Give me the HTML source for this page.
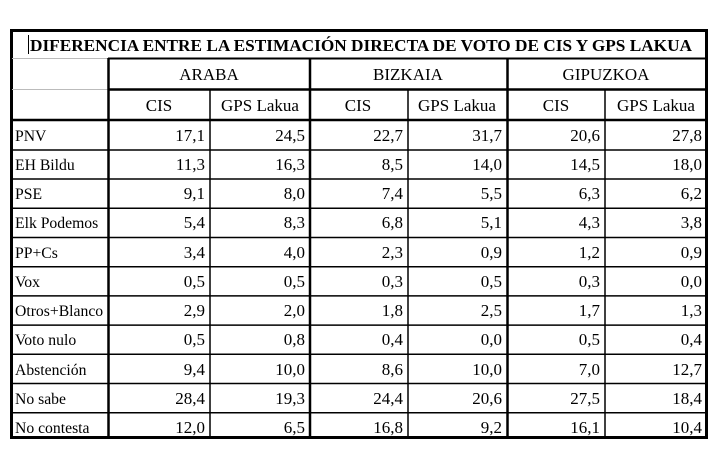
<!DOCTYPE html>
<html><head><meta charset="utf-8"><style>
html,body{margin:0;padding:0;background:#fff;}
svg text{font-family:"Liberation Serif",serif;fill:#000;}
</style></head><body>
<svg width="726" height="451" xmlns="http://www.w3.org/2000/svg">
<rect x="0" y="0" width="726" height="451" fill="#fff"/>
<g stroke="#000" fill="none">
<rect x="11.5" y="30.5" width="695" height="407" stroke-width="3"/>
<line x1="12" y1="58.5" x2="108" y2="58.5" stroke="#bbb" stroke-width="1"/>
<line x1="108" y1="58.5" x2="706" y2="58.5" stroke-width="2"/>
<line x1="12" y1="89.5" x2="108" y2="89.5" stroke="#bbb" stroke-width="1"/>
<line x1="108" y1="89.5" x2="706" y2="89.5" stroke-width="2.5"/>
<line x1="12" y1="120" x2="706" y2="120" stroke-width="2.5"/>
<g stroke-width="1.5">
<line x1="12" y1="150" x2="706" y2="150"/>
<line x1="12" y1="179" x2="706" y2="179"/>
<line x1="12" y1="208.3" x2="706" y2="208.3"/>
<line x1="12" y1="237.5" x2="706" y2="237.5"/>
<line x1="12" y1="266.7" x2="706" y2="266.7"/>
<line x1="12" y1="295.9" x2="706" y2="295.9"/>
<line x1="12" y1="325.1" x2="706" y2="325.1"/>
<line x1="12" y1="354.3" x2="706" y2="354.3"/>
<line x1="12" y1="383.5" x2="706" y2="383.5"/>
<line x1="12" y1="412.7" x2="706" y2="412.7"/>
</g>
<line x1="108.5" y1="58" x2="108.5" y2="437" stroke-width="2.5"/>
<line x1="310" y1="58" x2="310" y2="437" stroke-width="2.5"/>
<line x1="507.5" y1="58" x2="507.5" y2="437" stroke-width="2.5"/>
<line x1="210" y1="90" x2="210" y2="437" stroke-width="1.5"/>
<line x1="408" y1="90" x2="408" y2="437" stroke-width="1.5"/>
<line x1="605" y1="90" x2="605" y2="437" stroke-width="1.5"/>
</g>
<line x1="28.5" y1="35" x2="28.5" y2="54" stroke="#000" stroke-width="1"/>
<text x="30" y="51" font-size="16.5" font-weight="bold" textLength="662" lengthAdjust="spacingAndGlyphs">DIFERENCIA ENTRE LA ESTIMACIÓN DIRECTA DE VOTO DE CIS Y GPS LAKUA</text>
<g font-size="17" text-anchor="middle">
<text x="209" y="80">ARABA</text>
<text x="408" y="80">BIZKAIA</text>
<text x="606" y="80">GIPUZKOA</text>
<text x="159" y="111">CIS</text><text x="260" y="111">GPS Lakua</text>
<text x="358" y="111">CIS</text><text x="457" y="111">GPS Lakua</text>
<text x="556" y="111">CIS</text><text x="656" y="111">GPS Lakua</text>
</g>
<g font-size="15.7">
<text x="15" y="141">PNV</text>
<text x="15" y="170">EH Bildu</text>
<text x="15" y="199">PSE</text>
<text x="15" y="228">Elk Podemos</text>
<text x="15" y="258">PP+Cs</text>
<text x="15" y="287">Vox</text>
<text x="15" y="316">Otros+Blanco</text>
<text x="15" y="345">Voto nulo</text>
<text x="15" y="375">Abstención</text>
<text x="15" y="404">No sabe</text>
<text x="15" y="433">No contesta</text>
</g>
<g font-size="17" text-anchor="end">
<text x="205" y="141">17,1</text><text x="305" y="141">24,5</text><text x="403" y="141">22,7</text><text x="502" y="141">31,7</text><text x="600" y="141">20,6</text><text x="702" y="141">27,8</text>
<text x="205" y="170">11,3</text><text x="305" y="170">16,3</text><text x="403" y="170">8,5</text><text x="502" y="170">14,0</text><text x="600" y="170">14,5</text><text x="702" y="170">18,0</text>
<text x="205" y="199">9,1</text><text x="305" y="199">8,0</text><text x="403" y="199">7,4</text><text x="502" y="199">5,5</text><text x="600" y="199">6,3</text><text x="702" y="199">6,2</text>
<text x="205" y="228">5,4</text><text x="305" y="228">8,3</text><text x="403" y="228">6,8</text><text x="502" y="228">5,1</text><text x="600" y="228">4,3</text><text x="702" y="228">3,8</text>
<text x="205" y="258">3,4</text><text x="305" y="258">4,0</text><text x="403" y="258">2,3</text><text x="502" y="258">0,9</text><text x="600" y="258">1,2</text><text x="702" y="258">0,9</text>
<text x="205" y="287">0,5</text><text x="305" y="287">0,5</text><text x="403" y="287">0,3</text><text x="502" y="287">0,5</text><text x="600" y="287">0,3</text><text x="702" y="287">0,0</text>
<text x="205" y="316">2,9</text><text x="305" y="316">2,0</text><text x="403" y="316">1,8</text><text x="502" y="316">2,5</text><text x="600" y="316">1,7</text><text x="702" y="316">1,3</text>
<text x="205" y="345">0,5</text><text x="305" y="345">0,8</text><text x="403" y="345">0,4</text><text x="502" y="345">0,0</text><text x="600" y="345">0,5</text><text x="702" y="345">0,4</text>
<text x="205" y="375">9,4</text><text x="305" y="375">10,0</text><text x="403" y="375">8,6</text><text x="502" y="375">10,0</text><text x="600" y="375">7,0</text><text x="702" y="375">12,7</text>
<text x="205" y="404">28,4</text><text x="305" y="404">19,3</text><text x="403" y="404">24,4</text><text x="502" y="404">20,6</text><text x="600" y="404">27,5</text><text x="702" y="404">18,4</text>
<text x="205" y="433">12,0</text><text x="305" y="433">6,5</text><text x="403" y="433">16,8</text><text x="502" y="433">9,2</text><text x="600" y="433">16,1</text><text x="702" y="433">10,4</text>
</g>
</svg>
</body></html>
